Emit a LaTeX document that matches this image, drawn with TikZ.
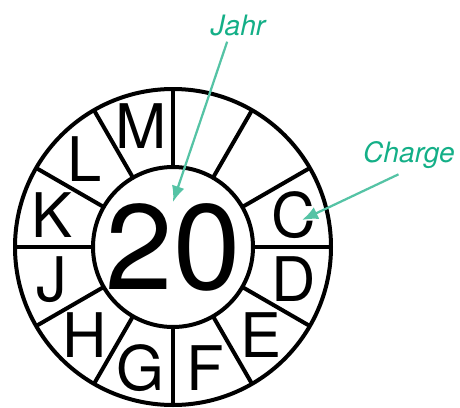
\documentclass[tikz,border=0pt]{standalone}
\usepackage{fontspec}
\setmainfont{TeX Gyre Heros}
\usetikzlibrary{arrows.meta}

\definecolor{labelgreen}{RGB}{20,175,135}
\definecolor{arrowgreen}{RGB}{85,195,165}

\begin{document}
\begin{tikzpicture}[
    x=0.02cm, y=0.02cm,
    % Define ring and spoke style
    ring/.style={line width=0.08cm},
    letter/.style={font=\fontsize{35}{35}\selectfont, inner sep=0pt},
    tag/.style={font=\fontsize{16}{16}\selectfont\itshape, text=labelgreen, anchor=base},
    pointer/.style={-{Latex[length=0.32cm,width=0.26cm]}, line width=0.045cm, draw=arrowgreen} % Style for the label arrows
]
\useasboundingbox (0,0) rectangle (460,407);

% Define radii of the seal
\def\outerR{158}
\def\innerR{80}
\def\midR{125} % Where the month letters sit

\coordinate (centre) at (173,160);

% Rings
\draw[ring] (centre) circle (\outerR);
\draw[ring] (centre) circle (\innerR);

% Spokes
\foreach \a in {0,30,...,330} {
    \draw[ring] ([shift={(\a:\innerR)}]centre) -- ([shift={(\a:\outerR)}]centre);
}

% Month letters
\foreach \ch/\ang in {C/15, D/-15, E/-45, F/-75, G/-105, H/-135, J/-165, K/165, L/135, M/105} {
    \node[letter] (sec-\ch) at ([shift={(\ang:\midR)}]centre) {\ch};
}

% Year in the middle
\node[font=\fontsize{69}{69}\selectfont, inner sep=0pt] (year) at (centre) {20};

% Labels and arrows
\node[tag] (jahr) at (238,372) {Jahr};
\node[tag] (charge) at (409,245) {Charge};
\coordinate (jahrtip) at (173,205);
\coordinate (chargetip) at (302,187);
\draw[pointer] (jahr.237) -- (jahrtip);
\draw[pointer] (charge.242) -- (chargetip);

\end{tikzpicture}
\end{document}
